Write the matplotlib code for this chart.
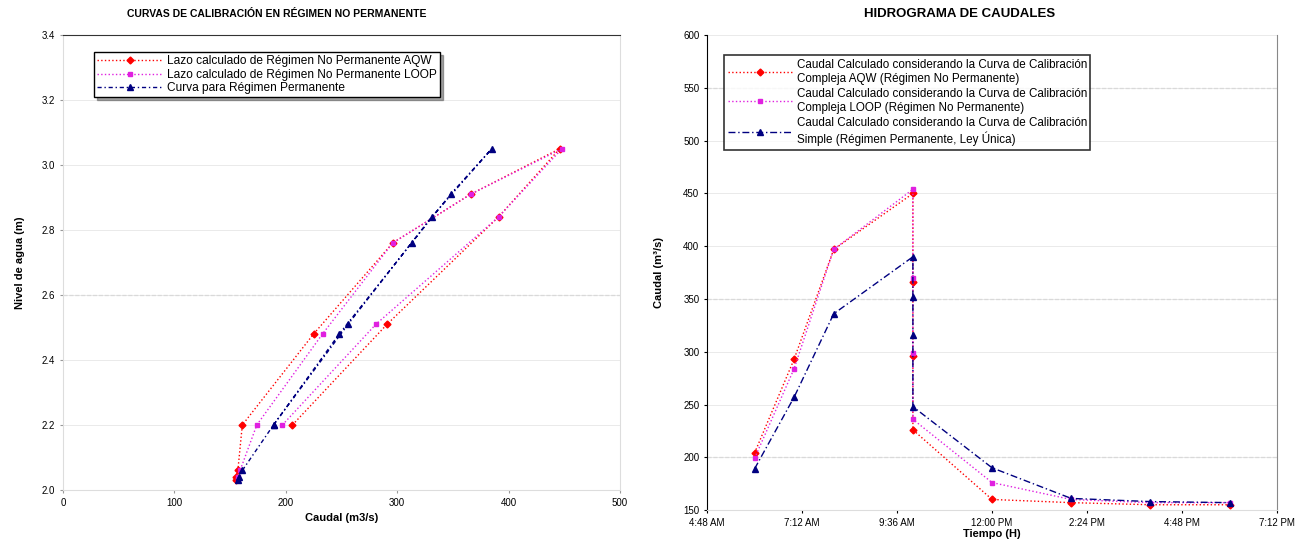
import matplotlib
matplotlib.use("Agg")
import matplotlib.pyplot as plt
import matplotlib.dates as mdates
from matplotlib.ticker import FuncFormatter
from datetime import datetime, timedelta

plt.rcParams.update({'font.family': ['Liberation Sans', 'DejaVu Sans'], 'font.size': 7})

# ---- data: stage / discharge loops (left) ----
h_red = [2.20, 2.51, 2.84, 3.05, 2.91, 2.76, 2.48, 2.20, 2.06, 2.04, 2.03]
q_red = [206, 291, 391, 446, 366, 296, 225, 161, 157, 155, 155]
h_mag = [2.20, 2.51, 2.84, 3.05, 2.91, 2.76, 2.48, 2.20, 2.06, 2.04, 2.03]
q_mag = [197, 281, 391, 448, 366, 296, 233, 174, 159, 157, 157]
h_blue = [2.20, 2.51, 2.84, 3.05, 2.91, 2.76, 2.48, 2.20, 2.06, 2.04, 2.03]
q_blue = [189, 256, 331, 385, 348, 313, 248, 189, 161, 158, 157]

# ---- data: hydrographs (right) ----
hours = [6, 7, 8, 10, 10, 10, 10, 12, 14, 16, 18]
qt_red = [204, 293, 397, 450, 366, 296, 226, 160, 157, 155, 155]
qt_mag = [199, 284, 397, 454, 370, 299, 236, 176, 160, 157, 157]
qt_blue = [189, 257, 336, 390, 352, 316, 248, 190, 161, 158, 157]

left_labels = ["Lazo calculado de Régimen No Permanente AQW",
               "Lazo calculado de Régimen No Permanente LOOP",
               "Curva para Régimen Permanente"]
right_labels = ["Caudal Calculado considerando la Curva de Calibración\nCompleja AQW (Régimen No Permanente)",
                "Caudal Calculado considerando la Curva de Calibración\nCompleja LOOP (Régimen No Permanente)",
                "Caudal Calculado considerando la Curva de Calibración\nSimple (Régimen Permanente, Ley Única)"]

RED = '#FF0000'
MAG = '#E020E0'
NAVY = '#000080'

fig = plt.figure(figsize=(13.12, 5.42), dpi=100)

# ---------------- left chart ----------------
ax1 = fig.add_axes([0.048, 0.096, 0.4245, 0.8395])
ax1.plot(q_red, h_red, ':', color=RED, lw=1, marker='D', ms=3.5, label=left_labels[0])
ax1.plot(q_mag, h_mag, ':', color=MAG, lw=1, marker='s', ms=3.5, label=left_labels[1])
ax1.plot(q_blue, h_blue, linestyle=(0, (3, 2, 1, 2)), color=NAVY, lw=1, marker='^', ms=4.5,
         label=left_labels[2])
ax1.set_xlim(0, 500)
ax1.set_ylim(2.0, 3.4)
ax1.set_xticks(range(0, 501, 100))
ax1.set_yticks([2.0, 2.2, 2.4, 2.6, 2.8, 3.0, 3.2, 3.4])
ax1.yaxis.set_major_formatter(FuncFormatter(lambda v, p: f"{v:.1f}"))
ax1.grid(axis='y', color='#E6E6E6', lw=0.6)
ax1.axhline(2.6, color='#999999', lw=0.8, ls='--', zorder=0)
for s in ['left', 'bottom', 'right']:
    ax1.spines[s].set_color('#DDDDDD')
ax1.spines['top'].set_color('#333333')
ax1.tick_params(length=2, color='#999999')
ax1.set_xlabel("Caudal (m3/s)", fontweight='bold', fontsize=8, labelpad=4)
ax1.set_ylabel("Nivel de agua (m)", fontweight='bold', fontsize=8, labelpad=12)
leg1 = ax1.legend(loc='upper left', bbox_to_anchor=(0.045, 0.975), fontsize=8.6, frameon=True,
                  fancybox=False, shadow=True, borderpad=0.25, labelspacing=0.12,
                  handlelength=5.5, handletextpad=0.4)
leg1.get_frame().set_edgecolor('black')
fig.text(0.211, 0.975, "CURVAS DE CALIBRACIÓN EN RÉGIMEN NO PERMANENTE",
         ha='center', va='center', fontsize=7.5, fontweight='bold')

# ---------------- right chart ----------------
day = datetime(2000, 1, 1)
times = [day + timedelta(hours=h) for h in hours]
ax2 = fig.add_axes([0.5389, 0.059, 0.4345, 0.876])
ax2.plot(times, qt_red, ':', color=RED, lw=1, marker='D', ms=3.5, label=right_labels[0])
ax2.plot(times, qt_mag, ':', color=MAG, lw=1, marker='s', ms=3.5, label=right_labels[1])
ax2.plot(times, qt_blue, linestyle=(0, (5, 2, 1, 2)), color=NAVY, lw=1, marker='^', ms=4.5,
         label=right_labels[2])
t0 = day + timedelta(hours=4.8)
ax2.set_xlim(t0, day + timedelta(hours=19.2))
ax2.set_xticks([t0 + timedelta(hours=2.4 * i) for i in range(7)])
ax2.xaxis.set_major_formatter(FuncFormatter(
    lambda v, p: mdates.num2date(v).strftime('%I:%M %p').lstrip('0')))
ax2.set_ylim(150, 600)
ax2.set_yticks(range(150, 601, 50))
ax2.grid(axis='y', color='#E6E6E6', lw=0.6)
for yv in [200, 350, 550]:
    ax2.axhline(yv, color='#999999', lw=0.8, ls='--', zorder=0)
ax2.spines['top'].set_visible(False)
ax2.spines['left'].set_color('black')
ax2.spines['bottom'].set_color('#DDDDDD')
ax2.spines['right'].set_color('#888888')
ax2.tick_params(length=2)
ax2.set_xlabel("Tiempo (H)", fontweight='bold', fontsize=8, labelpad=1)
ax2.set_ylabel("Caudal (m³/s)", fontweight='bold', fontsize=8, labelpad=14)
leg2 = ax2.legend(loc='upper left', bbox_to_anchor=(0.02, 0.97), fontsize=8.4, frameon=True,
                  fancybox=False, borderpad=0.3, labelspacing=0.3, handlelength=5.5,
                  handletextpad=0.4)
leg2.get_frame().set_edgecolor('black')
leg2.get_frame().set_linewidth(1.2)
fig.text(0.731, 0.975, "HIDROGRAMA DE CAUDALES", ha='center', va='center',
         fontsize=9.5, fontweight='bold')

fig.savefig("out.png", dpi=100)
